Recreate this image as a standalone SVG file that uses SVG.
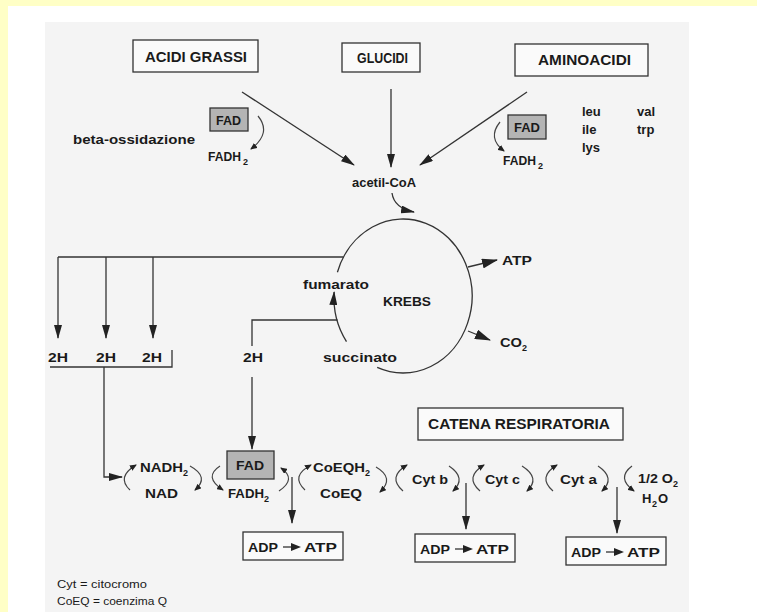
<svg xmlns="http://www.w3.org/2000/svg" width="757" height="612" viewBox="0 0 757 612">
<style>
.t{font-family:"Liberation Sans Narrow","Liberation Sans",Arial,sans-serif;font-weight:bold;fill:#1a1a1a;font-size:13px}
.big{font-size:14px}
.sm{font-size:12px}
.lg{font-size:10px;font-weight:normal}
.sub{font-size:9px}
.box{fill:#fafafa;stroke:#333;stroke-width:1.3}
.fad{fill:#b4b4b4;stroke:#333;stroke-width:1.3}
.ln{fill:none;stroke:#333;stroke-width:1.3}
.la{fill:none;stroke:#333;stroke-width:1.3;marker-end:url(#ah)}
.sa{fill:none;stroke:#444;stroke-width:1.2;marker-end:url(#as)}
</style>
<defs>
<marker id="ah" markerWidth="14" markerHeight="8" refX="13" refY="4" orient="auto" markerUnits="userSpaceOnUse"><path d="M0,0 L14,4 L0,8 z" fill="#222"/></marker>
<marker id="bh" markerWidth="16" markerHeight="10" refX="15" refY="5" orient="auto" markerUnits="userSpaceOnUse"><path d="M0,0 L16,5 L0,10 z" fill="#222"/></marker>
<marker id="as" markerWidth="7" markerHeight="6" refX="6" refY="3" orient="auto" markerUnits="userSpaceOnUse"><path d="M0,0 L7,3 L0,6 z" fill="#222"/></marker>
</defs>
<rect width="757" height="612" fill="#ffffff"/>
<rect width="757" height="6" fill="#ffffc6"/>
<rect width="8" height="612" fill="#ffffc6"/>
<rect x="45" y="22" width="644" height="590" fill="#f4f4f4"/>

<g id="connectors">
<path class="la" d="M242,92 L354,165"/>
<path class="la" d="M391,89 L391,167"/>
<path class="la" d="M527,92 L420,165"/>
<path class="sa" d="M258,116 Q272,133 251,149"/>
<path class="sa" d="M500,122 Q487,138 504,151"/>
<path class="la" d="M392,193 Q394,208 414,212"/>
<path class="ln" d="M337.4,272.2 A69,77 0 1 1 377.2,367.4"/>
<path class="la" d="M346.5,341.6 A69,77 0 0 1 334.1,292"/>
<path style="fill:none;stroke:#333;stroke-width:1.3;marker-end:url(#bh)" d="M468,267 L497,260"/>
<path style="fill:none;stroke:#333;stroke-width:1.3;marker-end:url(#bh)" d="M468,331 L490,340"/>
<path class="ln" d="M343.5,257 L58,257"/>
<path class="la" d="M58,257 L58,338"/>
<path class="la" d="M106,257 L106,338"/>
<path class="la" d="M153,257 L153,338"/>
<path class="ln" d="M50,367 L172,367 L172,350"/>
<path class="la" d="M104,367 L104,477 L122,477"/>
<path class="ln" d="M337.5,320 L252,320 L252,346"/>
<path class="la" d="M252,377 L252,449"/>
<path class="sa" d="M130,490 Q116,477 136,465"/>
<path class="sa" d="M190,466 Q210,477 195,490"/>
<path class="sa" d="M220,466 Q203,477 223,490"/>
<path class="sa" d="M279,491 Q297,479 281,468"/>
<path class="la" d="M292,477 L292,523"/>
<path class="sa" d="M305,490 Q290,476 311,465"/>
<path class="sa" d="M376,467 Q395,478 380,492"/>
<path class="sa" d="M403,491 Q387,477 407,465"/>
<path class="sa" d="M449,466 Q467,478 453,491"/>
<path class="la" d="M466,483 L466,529"/>
<path class="sa" d="M480,491 Q464,477 484,465"/>
<path class="sa" d="M522,466 Q541,478 527,491"/>
<path class="sa" d="M553,491 Q537,477 557,465"/>
<path class="sa" d="M598,466 Q616,478 602,491"/>
<path class="la" d="M617,487 L617,533"/>
<path class="sa" d="M632,466 Q616,478 634,491"/>
</g>

<g id="acidi-grassi"><rect class="box" x="133" y="40" width="125" height="32"/><text class="t big" x="145" y="62" textLength="102" lengthAdjust="spacingAndGlyphs">ACIDI GRASSI</text></g>
<g id="glucidi"><rect class="box" x="342" y="43" width="78" height="29"/><text class="t big" x="357" y="63" textLength="51" lengthAdjust="spacingAndGlyphs">GLUCIDI</text></g>
<g id="aminoacidi"><rect class="box" x="515" y="44" width="133" height="32"/><text class="t big" x="538" y="65" textLength="93" lengthAdjust="spacingAndGlyphs">AMINOACIDI</text></g>

<g id="beta-ossidazione">
<rect class="fad" x="210" y="108" width="38" height="23"/><text class="t" x="216" y="125" textLength="25" lengthAdjust="spacingAndGlyphs">FAD</text>
<text class="t" x="73" y="144" textLength="122" lengthAdjust="spacingAndGlyphs">beta-ossidazione</text>
<text class="t sm" x="208" y="161" textLength="33" lengthAdjust="spacingAndGlyphs">FADH</text><text class="t sub" x="243" y="165">2</text>
</g>
<g id="fad-amino">
<rect class="fad" x="508" y="115" width="38" height="24"/><text class="t" x="514" y="132" textLength="26" lengthAdjust="spacingAndGlyphs">FAD</text>
<text class="t sm" x="503" y="165" textLength="33" lengthAdjust="spacingAndGlyphs">FADH</text><text class="t sub" x="538" y="169">2</text>
</g>
<g id="amino-list">
<text class="t" x="582" y="116">leu</text><text class="t" x="637" y="116">val</text>
<text class="t" x="582" y="134">ile</text><text class="t" x="637" y="134">trp</text>
<text class="t" x="582" y="152">lys</text>
</g>
<g id="acetil-coa"><text class="t" x="352" y="187" textLength="64" lengthAdjust="spacingAndGlyphs">acetil-CoA</text></g>
<g id="krebs">
<text class="t" x="383" y="306" textLength="48" lengthAdjust="spacingAndGlyphs">KREBS</text>
<text class="t" x="303" y="289" textLength="66" lengthAdjust="spacingAndGlyphs">fumarato</text>
<text class="t" x="323" y="362" textLength="74" lengthAdjust="spacingAndGlyphs">succinato</text>
</g>
<g id="atp-krebs"><text class="t" x="502" y="265" textLength="30" lengthAdjust="spacingAndGlyphs">ATP</text></g>
<g id="co2"><text class="t" x="500" y="347" textLength="22" lengthAdjust="spacingAndGlyphs">CO</text><text class="t sub" x="522" y="351">2</text></g>
<g id="h2-a"><text class="t" x="48" y="362" textLength="20" lengthAdjust="spacingAndGlyphs">2H</text></g>
<g id="h2-b"><text class="t" x="96" y="362" textLength="20" lengthAdjust="spacingAndGlyphs">2H</text></g>
<g id="h2-c"><text class="t" x="142" y="362" textLength="20" lengthAdjust="spacingAndGlyphs">2H</text></g>
<g id="h2-d"><text class="t" x="243" y="362" textLength="20" lengthAdjust="spacingAndGlyphs">2H</text></g>

<g id="catena"><rect class="box" x="418" y="408" width="205" height="32"/><text class="t big" x="428" y="429" textLength="182" lengthAdjust="spacingAndGlyphs">CATENA RESPIRATORIA</text></g>

<g id="nad">
<text class="t" x="140" y="472" textLength="43" lengthAdjust="spacingAndGlyphs">NADH</text><text class="t sub" x="183" y="476">2</text>
<text class="t" x="145" y="498" textLength="33" lengthAdjust="spacingAndGlyphs">NAD</text>
</g>
<g id="fad">
<rect class="fad" x="227" y="451" width="47" height="28"/><text class="t" x="236" y="470" textLength="28" lengthAdjust="spacingAndGlyphs">FAD</text>
<text class="t" x="228" y="498" textLength="36" lengthAdjust="spacingAndGlyphs">FADH</text><text class="t sub" x="264" y="502">2</text>
</g>
<g id="coeq">
<text class="t" x="313" y="472" textLength="52" lengthAdjust="spacingAndGlyphs">CoEQH</text><text class="t sub" x="365" y="476">2</text>
<text class="t" x="320" y="498" textLength="42" lengthAdjust="spacingAndGlyphs">CoEQ</text>
</g>
<g id="cyt-b"><text class="t" x="412" y="484" textLength="36" lengthAdjust="spacingAndGlyphs">Cyt b</text></g>
<g id="cyt-c"><text class="t" x="485" y="484" textLength="35" lengthAdjust="spacingAndGlyphs">Cyt c</text></g>
<g id="cyt-a"><text class="t" x="560" y="484" textLength="37" lengthAdjust="spacingAndGlyphs">Cyt a</text></g>
<g id="oxygen">
<text class="t" x="638" y="483" textLength="35" lengthAdjust="spacingAndGlyphs">1/2 O</text><text class="t sub" x="673" y="487">2</text>
<text class="t" x="642" y="503">H</text><text class="t sub" x="652" y="507">2</text><text class="t" x="658" y="503">O</text>
</g>

<g id="atp-1"><rect class="box" x="243" y="532" width="100" height="28"/><text class="t" x="248" y="552" textLength="30" lengthAdjust="spacingAndGlyphs">ADP</text><path d="M283,547 L293,547" class="ln"/><path d="M291,543 L301,547 L291,551 z" fill="#222"/><text class="t" x="304" y="552" textLength="33" lengthAdjust="spacingAndGlyphs">ATP</text></g>
<g id="atp-2"><rect class="box" x="415" y="534" width="100" height="28"/><text class="t" x="420" y="554" textLength="30" lengthAdjust="spacingAndGlyphs">ADP</text><path d="M455,549 L465,549" class="ln"/><path d="M463,545 L473,549 L463,553 z" fill="#222"/><text class="t" x="476" y="554" textLength="33" lengthAdjust="spacingAndGlyphs">ATP</text></g>
<g id="atp-3"><rect class="box" x="566" y="537" width="100" height="28"/><text class="t" x="571" y="557" textLength="30" lengthAdjust="spacingAndGlyphs">ADP</text><path d="M606,552 L616,552" class="ln"/><path d="M614,548 L624,552 L614,556 z" fill="#222"/><text class="t" x="627" y="557" textLength="33" lengthAdjust="spacingAndGlyphs">ATP</text></g>

<g id="legend">
<text class="t lg" x="57" y="588" textLength="90" lengthAdjust="spacingAndGlyphs">Cyt = citocromo</text>
<text class="t lg" x="57" y="605" textLength="110" lengthAdjust="spacingAndGlyphs">CoEQ = coenzima Q</text>
</g>
</svg>
